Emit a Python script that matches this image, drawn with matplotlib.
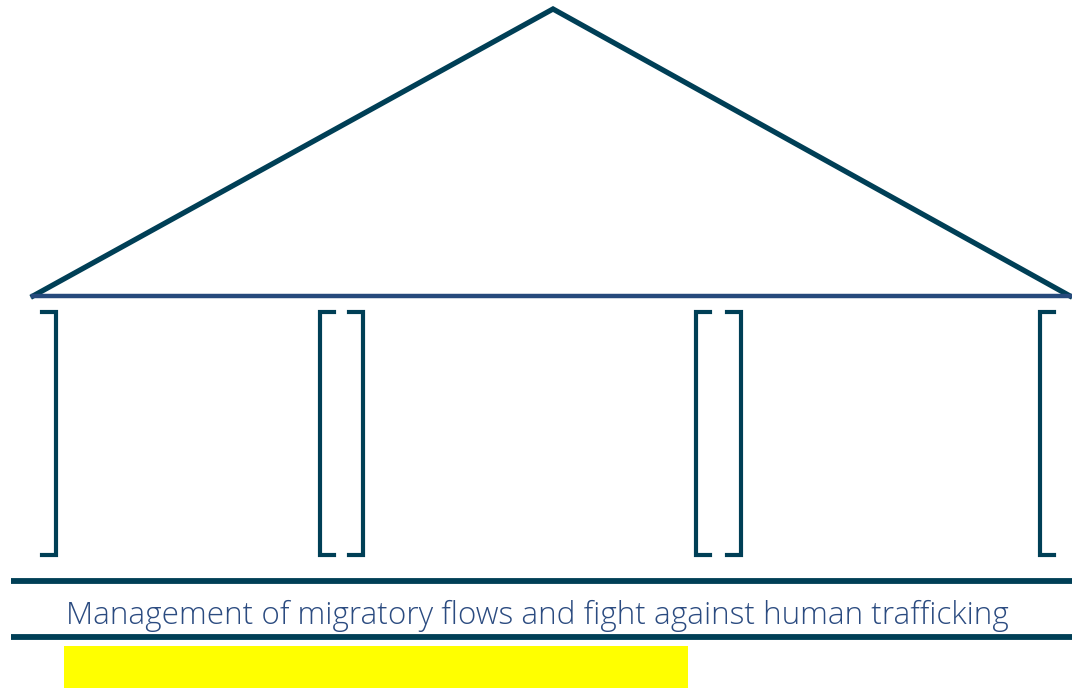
import matplotlib.pyplot as plt
from matplotlib.patches import Rectangle

# house diagram, drawn in pixel coordinates (y grows downward)
roof_x = [33, 553, 1070]
roof_y = [296, 9, 296]
beam_y = 296
left_brackets = [320, 696, 1040]    # "[" shapes: vertical at x, tick goes right
right_brackets = [56, 363, 741]     # "]" shapes: vertical at x, tick goes left
pillar_top, pillar_bottom = 312, 555
base_lines = [581, 637]
label = 'Management of migratory flows and fight against human trafficking'

dark = '#003f56'
blue = '#264a7c'
text_col = '#2b4b80'

fig = plt.figure(figsize=(10.72, 6.88), dpi=100)
ax = fig.add_axes([0, 0, 1, 1])
ax.set_xlim(0, 1072)
ax.set_ylim(688, 0)
ax.axis('off')

ax.plot(roof_x, roof_y, color=dark, lw=3.8, solid_joinstyle='miter')
ax.plot([roof_x[0], roof_x[-1]], [beam_y, beam_y], color=blue, lw=3.2)

tick = 14
for x in left_brackets:
    ax.plot([x + tick, x, x, x + tick], [pillar_top, pillar_top, pillar_bottom, pillar_bottom],
            color=dark, lw=3, solid_joinstyle='miter')
for x in right_brackets:
    ax.plot([x - tick, x, x, x - tick], [pillar_top, pillar_top, pillar_bottom, pillar_bottom],
            color=dark, lw=3, solid_joinstyle='miter')

for y in base_lines:
    ax.plot([11, 1072], [y, y], color=dark, lw=4.2, solid_capstyle='butt')

ax.text(537, 624, label, ha='center', va='baseline', color=text_col,
        fontsize=22.7, family='Open Sans', fontweight='light')

ax.add_patch(Rectangle((64, 646), 624, 42, color='#ffff00', lw=0))

fig.savefig('out.png', dpi=100)
